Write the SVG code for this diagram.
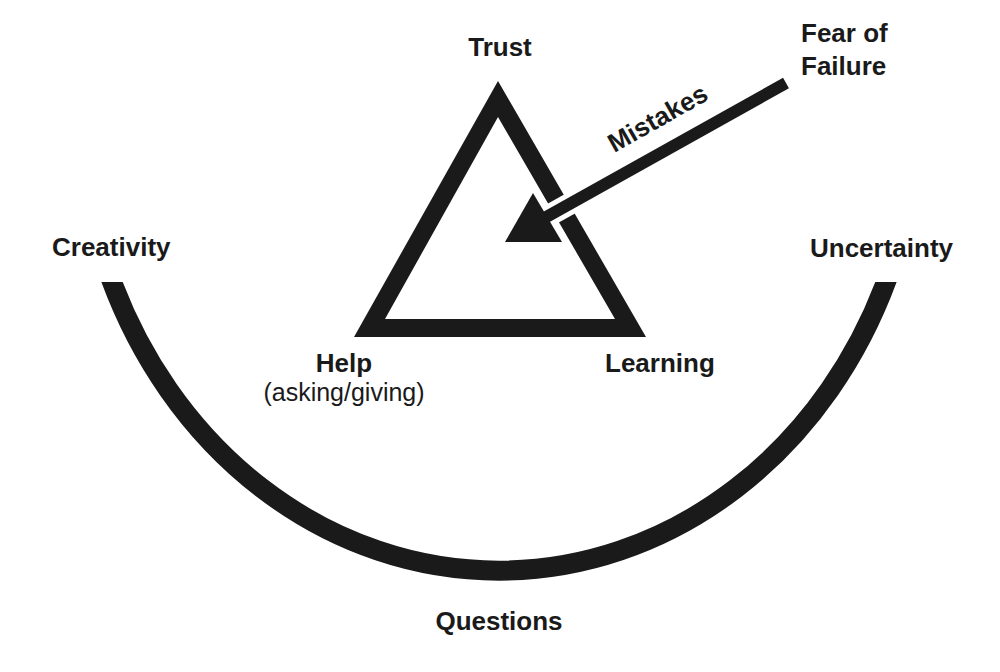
<svg xmlns="http://www.w3.org/2000/svg" width="1000" height="672" viewBox="0 0 1000 672">
  <style>
    .lbl { font-family: "Liberation Sans", Arial, sans-serif; font-weight: bold; font-size: 26px; fill: #1a1a1a; }
    .sub { font-family: "Liberation Sans", Arial, sans-serif; font-weight: normal; font-size: 25px; fill: #1a1a1a; }
    .ink { fill: #1a1a1a; }
  </style>
  <defs>
    <clipPath id="arcClip">
      <rect x="0" y="282" width="1000" height="390"/>
    </clipPath>
  </defs>
  <rect x="0" y="0" width="1000" height="672" fill="#ffffff"/>

  <g id="triangle">
    <path class="ink" fill-rule="evenodd" d="M498,81 L646,337 L354,337 Z M498,117 L385,319 L615,319 Z"/>
  </g>

  <g id="connectors">
    <path id="arc" d="M107.7,270 A420,472.2 0 0 0 890.3,270" fill="none" stroke="#1a1a1a" stroke-width="20" clip-path="url(#arcClip)"/>
    <g id="mistakes-arrow">
      <line x1="540" y1="220.5" x2="786" y2="83" stroke="#ffffff" stroke-width="22"/>
      <line x1="540" y1="220.5" x2="786" y2="83" stroke="#1a1a1a" stroke-width="12"/>
      <polygon class="ink" points="533,193 562,242 505,242"/>
    </g>
  </g>

  <g id="node-trust"><text class="lbl" x="500" y="56" text-anchor="middle">Trust</text></g>
  <g id="node-fear"><text class="lbl" x="801" y="42">Fear of</text><text class="lbl" x="801" y="75">Failure</text></g>
  <g id="node-mistakes"><text class="lbl" x="662" y="126" text-anchor="middle" transform="rotate(-29.5 662 126)">Mistakes</text></g>
  <g id="node-creativity"><text class="lbl" x="52" y="256">Creativity</text></g>
  <g id="node-uncertainty"><text class="lbl" x="810" y="257">Uncertainty</text></g>
  <g id="node-help"><text class="lbl" x="344" y="372" text-anchor="middle">Help</text><text class="sub" x="344" y="401" text-anchor="middle">(asking/giving)</text></g>
  <g id="node-learning"><text class="lbl" x="605" y="372">Learning</text></g>
  <g id="node-questions"><text class="lbl" x="499" y="630" text-anchor="middle">Questions</text></g>
</svg>
